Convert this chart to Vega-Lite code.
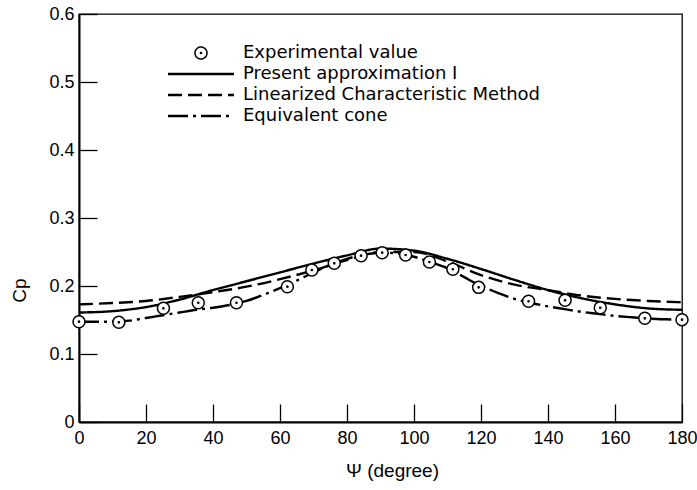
{
  "$schema": "https://vega.github.io/schema/vega-lite/v6.json",
  "width": 603,
  "height": 408,
  "autosize": "none",
  "padding": {"left": 79, "top": 14, "right": 15, "bottom": 68},
  "background": "white",
  "config": {
    "view": {"stroke": "black", "strokeWidth": 1.3},
    "font": "DejaVu Sans",
    "axis": {"grid": false, "domainColor": "black", "domainWidth": 2, "tickColor": "black", "tickWidth": 1.3, "labelColor": "black", "titleColor": "black", "labelFont": "Liberation Sans", "titleFont": "Liberation Sans", "labelFontSize": 18, "titleFontSize": 19, "titleFontWeight": "normal"}
  },
  "datasets": {
    "exp": [
      {"psi": 0, "cp": 0.1475}, {"psi": 11.9, "cp": 0.1466}, {"psi": 25.2, "cp": 0.1672}, {"psi": 35.6, "cp": 0.1754},
      {"psi": 47.0, "cp": 0.1754}, {"psi": 62.2, "cp": 0.199}, {"psi": 69.5, "cp": 0.2235}, {"psi": 76.2, "cp": 0.2334},
      {"psi": 84.2, "cp": 0.2446}, {"psi": 90.5, "cp": 0.249}, {"psi": 97.5, "cp": 0.2456}, {"psi": 104.6, "cp": 0.2353},
      {"psi": 111.6, "cp": 0.2246}, {"psi": 119.3, "cp": 0.198}, {"psi": 134.2, "cp": 0.1775}, {"psi": 145.1, "cp": 0.179},
      {"psi": 155.6, "cp": 0.168}, {"psi": 168.9, "cp": 0.1525}, {"psi": 180, "cp": 0.1505}
    ],
    "curves": [
      {"series": "Present approximation I", "psi": 0, "cp": 0.161},
      {"series": "Present approximation I", "psi": 10, "cp": 0.163},
      {"series": "Present approximation I", "psi": 20, "cp": 0.169},
      {"series": "Present approximation I", "psi": 30, "cp": 0.180},
      {"series": "Present approximation I", "psi": 40, "cp": 0.194},
      {"series": "Present approximation I", "psi": 50, "cp": 0.207},
      {"series": "Present approximation I", "psi": 60, "cp": 0.220},
      {"series": "Present approximation I", "psi": 70, "cp": 0.233},
      {"series": "Present approximation I", "psi": 80, "cp": 0.245},
      {"series": "Present approximation I", "psi": 90, "cp": 0.255},
      {"series": "Present approximation I", "psi": 100, "cp": 0.252},
      {"series": "Present approximation I", "psi": 110, "cp": 0.240},
      {"series": "Present approximation I", "psi": 120, "cp": 0.225},
      {"series": "Present approximation I", "psi": 130, "cp": 0.209},
      {"series": "Present approximation I", "psi": 140, "cp": 0.194},
      {"series": "Present approximation I", "psi": 150, "cp": 0.182},
      {"series": "Present approximation I", "psi": 160, "cp": 0.173},
      {"series": "Present approximation I", "psi": 170, "cp": 0.167},
      {"series": "Present approximation I", "psi": 180, "cp": 0.165},
      {"series": "Linearized Characteristic Method", "psi": 0, "cp": 0.173},
      {"series": "Linearized Characteristic Method", "psi": 10, "cp": 0.175},
      {"series": "Linearized Characteristic Method", "psi": 20, "cp": 0.178},
      {"series": "Linearized Characteristic Method", "psi": 30, "cp": 0.184},
      {"series": "Linearized Characteristic Method", "psi": 40, "cp": 0.191},
      {"series": "Linearized Characteristic Method", "psi": 50, "cp": 0.199},
      {"series": "Linearized Characteristic Method", "psi": 60, "cp": 0.210},
      {"series": "Linearized Characteristic Method", "psi": 70, "cp": 0.223},
      {"series": "Linearized Characteristic Method", "psi": 80, "cp": 0.238},
      {"series": "Linearized Characteristic Method", "psi": 90, "cp": 0.250},
      {"series": "Linearized Characteristic Method", "psi": 100, "cp": 0.250},
      {"series": "Linearized Characteristic Method", "psi": 110, "cp": 0.236},
      {"series": "Linearized Characteristic Method", "psi": 120, "cp": 0.216},
      {"series": "Linearized Characteristic Method", "psi": 130, "cp": 0.202},
      {"series": "Linearized Characteristic Method", "psi": 140, "cp": 0.194},
      {"series": "Linearized Characteristic Method", "psi": 150, "cp": 0.186},
      {"series": "Linearized Characteristic Method", "psi": 160, "cp": 0.181},
      {"series": "Linearized Characteristic Method", "psi": 170, "cp": 0.178},
      {"series": "Linearized Characteristic Method", "psi": 180, "cp": 0.176},
      {"series": "Equivalent cone", "psi": 0, "cp": 0.1475},
      {"series": "Equivalent cone", "psi": 5, "cp": 0.1475},
      {"series": "Equivalent cone", "psi": 10, "cp": 0.1475},
      {"series": "Equivalent cone", "psi": 15, "cp": 0.149},
      {"series": "Equivalent cone", "psi": 20, "cp": 0.153},
      {"series": "Equivalent cone", "psi": 25, "cp": 0.157},
      {"series": "Equivalent cone", "psi": 30, "cp": 0.161},
      {"series": "Equivalent cone", "psi": 35, "cp": 0.165},
      {"series": "Equivalent cone", "psi": 40, "cp": 0.168},
      {"series": "Equivalent cone", "psi": 45, "cp": 0.172},
      {"series": "Equivalent cone", "psi": 50, "cp": 0.178},
      {"series": "Equivalent cone", "psi": 55, "cp": 0.187},
      {"series": "Equivalent cone", "psi": 60, "cp": 0.197},
      {"series": "Equivalent cone", "psi": 65, "cp": 0.208},
      {"series": "Equivalent cone", "psi": 70, "cp": 0.220},
      {"series": "Equivalent cone", "psi": 75, "cp": 0.231},
      {"series": "Equivalent cone", "psi": 80, "cp": 0.240},
      {"series": "Equivalent cone", "psi": 85, "cp": 0.246},
      {"series": "Equivalent cone", "psi": 90, "cp": 0.249},
      {"series": "Equivalent cone", "psi": 95, "cp": 0.248},
      {"series": "Equivalent cone", "psi": 100, "cp": 0.243},
      {"series": "Equivalent cone", "psi": 105, "cp": 0.235},
      {"series": "Equivalent cone", "psi": 110, "cp": 0.226},
      {"series": "Equivalent cone", "psi": 115, "cp": 0.213},
      {"series": "Equivalent cone", "psi": 120, "cp": 0.200},
      {"series": "Equivalent cone", "psi": 125, "cp": 0.190},
      {"series": "Equivalent cone", "psi": 130, "cp": 0.181},
      {"series": "Equivalent cone", "psi": 135, "cp": 0.175},
      {"series": "Equivalent cone", "psi": 140, "cp": 0.170},
      {"series": "Equivalent cone", "psi": 145, "cp": 0.166},
      {"series": "Equivalent cone", "psi": 150, "cp": 0.162},
      {"series": "Equivalent cone", "psi": 155, "cp": 0.159},
      {"series": "Equivalent cone", "psi": 160, "cp": 0.156},
      {"series": "Equivalent cone", "psi": 165, "cp": 0.154},
      {"series": "Equivalent cone", "psi": 170, "cp": 0.152},
      {"series": "Equivalent cone", "psi": 175, "cp": 0.151},
      {"series": "Equivalent cone", "psi": 180, "cp": 0.1505}
    ]
  },
  "layer": [
    {
      "data": {"name": "curves"},
      "mark": {"type": "line", "color": "black", "strokeWidth": 2.4, "interpolate": "monotone"},
      "encoding": {
        "x": {"field": "psi", "type": "quantitative", "scale": {"domain": [0, 180], "nice": false},
          "axis": {"title": "Ψ (degree)", "values": [0, 20, 40, 60, 80, 100, 120, 140, 160, 180], "tickSize": -18, "labelPadding": 25, "titleX": 313, "titleY": 48, "titleAlign": "center", "titleBaseline": "middle", "titleFontSize": 19, "labelFlush": false, "labelOverlap": false}},
        "y": {"field": "cp", "type": "quantitative", "scale": {"domain": [0, 0.6], "nice": false},
          "axis": {"title": "Cp", "values": [0, 0.1, 0.2, 0.3, 0.4, 0.5, 0.6], "labelExpr": "datum.value == 0 ? '0' : format(datum.value, '.1f')", "tickSize": -18, "labelPadding": 23, "titleX": -60, "titleY": 276, "titleAngle": -90, "titleAlign": "center", "titleBaseline": "middle", "titleFontSize": 19, "labelFlush": false, "labelOverlap": false}},
        "strokeDash": {"field": "series", "type": "nominal",
          "scale": {"domain": ["Experimental value", "Present approximation I", "Linearized Characteristic Method", "Equivalent cone"], "range": [[1, 0], [1, 0], [14, 6], [20, 5, 3, 5]]},
          "legend": {"title": null, "orient": "none", "legendX": 113, "legendY": 30, "symbolType": "stroke", "symbolSize": 4356, "symbolStrokeWidth": 2.5, "symbolStrokeColor": "black", "labelFont": "DejaVu Sans", "labelFontSize": 18, "labelColor": "black", "labelOffset": 33, "labelLimit": 450, "rowPadding": 3,
            "encode": {"symbols": {"update": {
              "shape": {"signal": "datum.value === 'Experimental value' ? 'M-1,0A1,1 0 1,0 1,0A1,1 0 1,0 -1,0ZM-0.1,0A0.1,0.1 0 1,0 0.1,0A0.1,0.1 0 1,0 -0.1,0Z' : 'stroke'"},
              "size": {"signal": "datum.value === 'Experimental value' ? 144 : 4356"},
              "strokeWidth": {"signal": "datum.value === 'Experimental value' ? 1.5 : 2.5"},
              "fill": {"value": "white"},
              "stroke": {"value": "black"}
            }}}}
        }
      }
    },
    {
      "data": {"name": "exp"},
      "mark": {"type": "point", "shape": "M-1,0A1,1 0 1,0 1,0A1,1 0 1,0 -1,0ZM-0.1,0A0.1,0.1 0 1,0 0.1,0A0.1,0.1 0 1,0 -0.1,0Z", "size": 144, "filled": true, "fill": "white", "stroke": "black", "strokeWidth": 1.5, "opacity": 1},
      "encoding": {
        "x": {"field": "psi", "type": "quantitative"},
        "y": {"field": "cp", "type": "quantitative"}
      }
    }
  ]
}
